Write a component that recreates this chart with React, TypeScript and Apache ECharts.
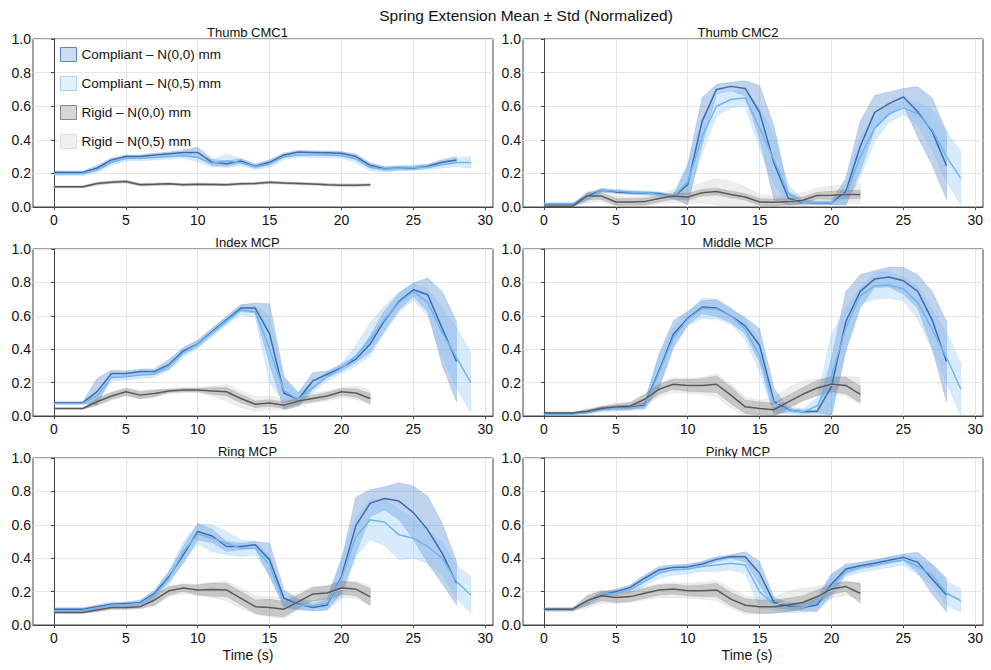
import React, { useEffect, useRef } from "react";
import * as echarts from "echarts";

// ---------- time axes (s) ----------
const timeC0 = [0, 1, 2, 3, 4, 5, 6, 7, 8, 9, 10, 11, 12, 13, 14, 15, 16, 17, 18, 19, 20, 21, 22, 23, 24, 25, 26, 27, 28];
const timeC5 = [0, 1, 2, 3, 4, 5, 6, 7, 8, 9, 10, 11, 12, 13, 14, 15, 16, 17, 18, 19, 20, 21, 22, 23, 24, 25, 26, 27, 28, 29];
const timeR = [0, 1, 2, 3, 4, 5, 6, 7, 8, 9, 10, 11, 12, 13, 14, 15, 16, 17, 18, 19, 20, 21, 22];

const xTicks = [0, 5, 10, 15, 20, 25, 30];

const panelTitles = ["Thumb CMC1", "Thumb CMC2", "Index MCP", "Middle MCP", "Ring MCP", "Pinky MCP"];
const legendNames = ["Compliant – N(0,0) mm", "Compliant – N(0,5) mm", "Rigid – N(0,0) mm", "Rigid – N(0,5) mm"];

// ---------- Thumb CMC1 ----------
const cmc1C0 = [.206, .206, .206, .232, .28, .30, .30, .31, .317, .325, .325, .266, .258, .274, .242, .266, .31, .327, .325, .323, .32, .30, .248, .228, .232, .232, .242, .266, .28];
const cmc1C0Sd = [.008, .008, .008, .015, .012, .01, .01, .01, .01, .015, .03, .02, .015, .015, .012, .015, .012, .01, .01, .01, .01, .015, .015, .012, .012, .012, .012, .015, .02];
const cmc1C5 = [.198, .198, .198, .22, .265, .288, .29, .295, .30, .305, .295, .26, .275, .265, .24, .255, .298, .31, .31, .31, .305, .285, .235, .225, .23, .235, .238, .252, .265, .265];
const cmc1C5Sd = [.012, .012, .012, .015, .015, .015, .015, .015, .015, .015, .025, .02, .04, .02, .015, .02, .015, .015, .015, .015, .015, .02, .02, .015, .015, .015, .015, .02, .025, .035];
const cmc1R0 = [.12, .12, .12, .14, .148, .152, .133, .135, .138, .132, .135, .134, .133, .138, .14, .147, .143, .14, .137, .132, .13, .13, .132];
const cmc1R0Sd = [.005, .005, .005, .007, .007, .007, .007, .007, .006, .006, .006, .006, .006, .006, .006, .006, .006, .006, .006, .006, .006, .006, .006];
const cmc1R5 = [.12, .12, .12, .138, .147, .15, .134, .135, .137, .133, .135, .134, .134, .137, .14, .146, .143, .14, .137, .133, .131, .131, .132];
const cmc1R5Sd = [.007, .007, .007, .009, .009, .009, .009, .009, .008, .008, .008, .008, .008, .008, .008, .008, .008, .008, .008, .008, .008, .008, .008];

// ---------- Thumb CMC2 ----------
const cmc2C0 = [.015, .015, .015, .063, .1, .09, .085, .083, .08, .06, .133, .51, .70, .718, .706, .563, .262, .052, .028, .024, .024, .093, .36, .563, .615, .655, .567, .45, .246];
const cmc2C0Sd = [.005, .005, .005, .02, .01, .01, .01, .01, .01, .01, .12, .14, .03, .025, .045, .16, .22, .04, .01, .01, .01, .08, .15, .1, .07, .05, .15, .2, .2];
const cmc2C5 = [.02, .02, .02, .05, .1, .095, .09, .085, .075, .06, .15, .42, .6, .64, .65, .47, .28, .08, .03, .025, .025, .07, .3, .47, .555, .59, .555, .46, .3, .17];
const cmc2C5Sd = [.008, .008, .008, .02, .01, .01, .01, .01, .01, .01, .1, .1, .06, .05, .05, .12, .15, .05, .015, .01, .01, .06, .12, .08, .05, .04, .07, .12, .15, .16];
const cmc2R0 = [.005, .005, .005, .065, .065, .03, .03, .032, .05, .065, .06, .085, .092, .075, .06, .03, .028, .032, .04, .068, .07, .074, .075];
const cmc2R0Sd = [.005, .005, .005, .02, .02, .02, .02, .02, .02, .02, .02, .02, .02, .02, .02, .02, .02, .02, .02, .02, .025, .025, .025];
const cmc2R5 = [.005, .005, .005, .06, .065, .032, .03, .035, .05, .065, .065, .085, .09, .078, .06, .035, .03, .035, .045, .07, .075, .078, .08];
const cmc2R5Sd = [.006, .006, .006, .035, .03, .03, .03, .03, .03, .04, .045, .06, .08, .075, .06, .04, .035, .035, .04, .045, .05, .055, .06];

// ---------- Index MCP ----------
const indexC0 = [.08, .08, .08, .146, .254, .255, .266, .267, .308, .39, .432, .506, .576, .646, .646, .492, .136, .10, .21, .25, .29, .34, .432, .572, .686, .756, .726, .526, .326];
const indexC0Sd = [.005, .005, .005, .08, .02, .015, .015, .015, .03, .02, .02, .02, .02, .02, .03, .18, .1, .04, .05, .02, .02, .02, .05, .06, .05, .04, .1, .22, .24];
const indexC5 = [.075, .075, .075, .12, .23, .235, .245, .25, .3, .38, .43, .5, .57, .635, .625, .4, .15, .1, .17, .235, .285, .36, .46, .58, .68, .745, .68, .5, .35, .2];
const indexC5Sd = [.008, .008, .008, .03, .02, .02, .02, .02, .025, .03, .025, .025, .025, .03, .035, .2, .06, .04, .03, .025, .03, .06, .1, .08, .06, .05, .08, .15, .18, .18];
const indexR0 = [.045, .045, .045, .085, .12, .145, .125, .135, .15, .155, .155, .15, .145, .105, .07, .078, .065, .09, .105, .12, .145, .138, .105];
const indexR0Sd = [.003, .003, .003, .02, .02, .02, .02, .02, .01, .01, .01, .02, .025, .025, .02, .02, .02, .02, .02, .02, .02, .025, .03];
const indexR5 = [.045, .045, .045, .085, .118, .143, .127, .135, .15, .155, .155, .148, .14, .1, .07, .08, .07, .09, .108, .12, .14, .14, .11];
const indexR5Sd = [.004, .004, .004, .025, .025, .025, .025, .02, .015, .015, .015, .03, .05, .05, .045, .04, .03, .03, .03, .03, .03, .04, .045];

// ---------- Middle MCP ----------
const middleC0 = [.018, .018, .018, .025, .045, .05, .052, .065, .27, .49, .586, .652, .646, .6, .54, .422, .086, .036, .026, .028, .176, .566, .746, .82, .832, .81, .746, .576, .326];
const middleC0Sd = [.005, .005, .005, .008, .01, .01, .01, .02, .1, .08, .04, .04, .05, .04, .05, .1, .08, .01, .01, .01, .17, .18, .1, .05, .06, .08, .1, .17, .24];
const middleC5 = [.01, .01, .01, .02, .04, .045, .048, .058, .26, .47, .58, .645, .64, .6, .52, .36, .07, .035, .025, .06, .24, .53, .72, .78, .785, .76, .68, .52, .35, .16];
const middleC5Sd = [.005, .005, .005, .01, .015, .015, .015, .02, .1, .06, .04, .06, .06, .05, .06, .1, .05, .02, .02, .05, .25, .12, .05, .08, .08, .07, .1, .12, .15, .16];
const middleR0 = [.018, .018, .018, .028, .045, .055, .06, .1, .16, .19, .183, .183, .19, .125, .055, .045, .038, .085, .13, .168, .19, .183, .13];
const middleR0Sd = [.004, .004, .004, .01, .01, .015, .02, .03, .03, .03, .035, .04, .05, .05, .04, .04, .04, .04, .04, .045, .045, .05, .05];
const middleR5 = [.018, .018, .018, .03, .045, .055, .06, .095, .155, .185, .18, .18, .185, .12, .055, .045, .06, .11, .15, .17, .185, .18, .15];
const middleR5Sd = [.005, .005, .005, .015, .015, .02, .025, .035, .04, .045, .045, .05, .07, .07, .06, .05, .05, .06, .06, .05, .05, .06, .08];

// ---------- Ring MCP ----------
const ringC0 = [.095, .095, .095, .11, .125, .128, .135, .19, .29, .42, .56, .533, .47, .47, .48, .39, .16, .125, .105, .12, .29, .595, .73, .758, .742, .673, .57, .43, .25];
const ringC0Sd = [.008, .008, .008, .01, .01, .01, .015, .02, .03, .05, .05, .04, .03, .02, .02, .1, .05, .03, .02, .03, .1, .17, .08, .07, .11, .16, .2, .18, .13];
const ringC5 = [.085, .085, .085, .1, .118, .12, .13, .18, .28, .44, .545, .52, .49, .46, .46, .36, .13, .12, .115, .13, .28, .53, .63, .615, .54, .52, .47, .4, .26, .18];
const ringC5Sd = [.008, .008, .008, .01, .01, .01, .015, .02, .04, .06, .06, .08, .07, .05, .04, .06, .03, .03, .03, .04, .12, .12, .12, .14, .15, .12, .1, .1, .1, .11];
const ringR0 = [.075, .075, .075, .09, .105, .105, .11, .15, .205, .222, .21, .212, .21, .16, .11, .105, .095, .14, .185, .192, .222, .215, .168];
const ringR0Sd = [.004, .004, .004, .01, .01, .01, .01, .03, .025, .02, .03, .04, .04, .04, .04, .05, .045, .04, .04, .04, .04, .04, .05];
const ringR5 = [.075, .075, .075, .09, .105, .105, .11, .145, .2, .218, .21, .21, .205, .16, .12, .11, .1, .14, .18, .19, .215, .21, .175];
const ringR5Sd = [.005, .005, .005, .01, .012, .012, .012, .035, .03, .03, .035, .045, .06, .06, .055, .06, .06, .05, .05, .05, .05, .05, .06];

// ---------- Pinky MCP ----------
const pinkyC0 = [.095, .095, .095, .14, .18, .2, .225, .28, .33, .345, .348, .365, .393, .41, .408, .31, .135, .112, .105, .12, .245, .335, .355, .37, .388, .405, .375, .275, .18];
const pinkyC0Sd = [.008, .008, .008, .01, .015, .015, .015, .02, .02, .015, .015, .015, .015, .01, .03, .07, .03, .02, .02, .04, .06, .03, .02, .02, .02, .02, .06, .09, .1];
const pinkyC5 = [.09, .09, .09, .13, .185, .19, .21, .26, .31, .33, .335, .35, .36, .37, .36, .2, .12, .105, .105, .135, .23, .32, .345, .36, .375, .39, .35, .3, .19, .145];
const pinkyC5Sd = [.01, .01, .01, .015, .015, .015, .02, .025, .03, .03, .03, .03, .04, .04, .05, .1, .03, .03, .03, .04, .07, .03, .03, .03, .03, .03, .05, .06, .07, .07];
const pinkyR0 = [.095, .095, .095, .145, .175, .165, .17, .19, .21, .215, .205, .205, .21, .155, .118, .11, .11, .12, .135, .17, .215, .23, .19];
const pinkyR0Sd = [.005, .005, .005, .03, .03, .03, .03, .03, .03, .03, .03, .035, .04, .04, .04, .04, .04, .04, .04, .04, .03, .03, .06];
const pinkyR5 = [.095, .095, .095, .14, .17, .17, .175, .19, .205, .21, .205, .205, .205, .16, .12, .115, .12, .14, .16, .18, .205, .22, .2];
const pinkyR5Sd = [.006, .006, .006, .04, .04, .04, .04, .04, .04, .045, .045, .05, .06, .06, .055, .05, .05, .06, .06, .05, .045, .04, .05];

const panels = [
  { c0: cmc1C0, c0s: cmc1C0Sd, c5: cmc1C5, c5s: cmc1C5Sd, r0: cmc1R0, r0s: cmc1R0Sd, r5: cmc1R5, r5s: cmc1R5Sd },
  { c0: cmc2C0, c0s: cmc2C0Sd, c5: cmc2C5, c5s: cmc2C5Sd, r0: cmc2R0, r0s: cmc2R0Sd, r5: cmc2R5, r5s: cmc2R5Sd },
  { c0: indexC0, c0s: indexC0Sd, c5: indexC5, c5s: indexC5Sd, r0: indexR0, r0s: indexR0Sd, r5: indexR5, r5s: indexR5Sd },
  { c0: middleC0, c0s: middleC0Sd, c5: middleC5, c5s: middleC5Sd, r0: middleR0, r0s: middleR0Sd, r5: middleR5, r5s: middleR5Sd },
  { c0: ringC0, c0s: ringC0Sd, c5: ringC5, c5s: ringC5Sd, r0: ringR0, r0s: ringR0Sd, r5: ringR5, r5s: ringR5Sd },
  { c0: pinkyC0, c0s: pinkyC0Sd, c5: pinkyC5, c5s: pinkyC5Sd, r0: pinkyR0, r0s: pinkyR0Sd, r5: pinkyR5, r5s: pinkyR5Sd },
];

const FONT = "'Liberation Sans', Arial, Helvetica, sans-serif";

const styleC0 = { line: "#3d6cb0", band: "rgba(60,120,200,0.33)", edge: "rgba(60,120,200,0.25)" };
const styleC5 = { line: "#72b5ee", band: "rgba(125,190,245,0.30)", edge: "rgba(125,190,245,0.25)" };
const styleR0 = { line: "#5a5a5a", band: "rgba(100,100,100,0.28)", edge: "rgba(100,100,100,0.2)" };
const styleR5 = { line: "#c6c6c6", band: "rgba(175,175,175,0.22)", edge: "rgba(175,175,175,0.18)" };

const gridLefts = [33, 523];
const gridTops = [39, 249, 458];
const gridW = 460;
const gridH = 168;

function bandSeries(name: string, idx: number, t: number[], m: number[], s: number[], st: any) {
  return {
    type: "custom",
    name,
    xAxisIndex: idx,
    yAxisIndex: idx,
    silent: true,
    clip: true,
    data: t.map((x, i) => [x, m[i] - s[i], m[i] + s[i]]),
    encode: { x: 0, y: [1, 2] },
    renderItem: (params: any, api: any) => {
      if (params.dataIndex !== 0) return null;
      const pts: number[][] = [];
      for (let i = 0; i < t.length; i++) pts.push(api.coord([t[i], m[i] + s[i]]));
      for (let i = t.length - 1; i >= 0; i--) pts.push(api.coord([t[i], m[i] - s[i]]));
      return {
        type: "polygon",
        shape: { points: pts },
        style: { fill: st.band, stroke: st.edge, lineWidth: 0.8 },
      };
    },
  };
}

function lineSeries(idx: number, t: number[], m: number[], st: any, w: number) {
  return {
    type: "line",
    xAxisIndex: idx,
    yAxisIndex: idx,
    silent: true,
    showSymbol: false,
    symbol: "none",
    data: t.map((x, i) => [x, m[i]]),
    lineStyle: { color: st.line, width: w },
    itemStyle: { color: st.line },
  };
}

export default function App() {
  const ref = useRef<HTMLDivElement>(null);
  useEffect(() => {
    document.body.style.margin = "0";
    if (!ref.current) return;
    const chart = echarts.init(ref.current, undefined, { renderer: "svg" });
    const grids: any[] = [];
    const xAxes: any[] = [];
    const yAxes: any[] = [];
    const series: any[] = [];
    const graphics: any[] = [];
    panels.forEach((p, i) => {
      const row = Math.floor(i / 2);
      const col = i % 2;
      grids.push({
        left: gridLefts[col],
        top: gridTops[row],
        width: gridW,
        height: gridH - (row > 0 ? 1 : 0),
        show: true,
        borderColor: "#454545",
        borderWidth: 1,
        backgroundColor: "transparent",
        containLabel: false,
      });
      xAxes.push({
        type: "value",
        gridIndex: i,
        min: -1.46,
        max: 30.54,
        axisLine: { show: true, onZero: false, lineStyle: { color: "#454545", width: 1 } },
        axisTick: { show: true, length: 3, lineStyle: { color: "#454545" }, customValues: xTicks },
        axisLabel: {
          show: true,
          fontSize: 14,
          color: "#111",
          fontFamily: FONT,
          margin: 6,
          customValues: xTicks,
        },
        splitLine: { show: true, lineStyle: { color: "#e6e6e6", width: 1 } },
      });
      yAxes.push({
        type: "value",
        gridIndex: i,
        min: 0,
        max: 1,
        interval: 0.2,
        axisLine: { show: true, lineStyle: { color: "#454545", width: 1 } },
        axisTick: { show: true, length: 3, lineStyle: { color: "#454545" } },
        axisLabel: {
          fontSize: 14,
          color: "#111",
          fontFamily: FONT,
          margin: 2,
          formatter: (v: number) => v.toFixed(1),
        },
        splitLine: { show: true, lineStyle: { color: "#e6e6e6", width: 1 } },
      });
      series.push(bandSeries(legendNames[0], i, timeC0, p.c0, p.c0s, styleC0));
      series.push(lineSeries(i, timeC0, p.c0, styleC0, 1.5));
      series.push(bandSeries(legendNames[1], i, timeC5, p.c5, p.c5s, styleC5));
      series.push(lineSeries(i, timeC5, p.c5, styleC5, 1.5));
      series.push(bandSeries(legendNames[3], i, timeR, p.r5, p.r5s, styleR5));
      series.push(lineSeries(i, timeR, p.r5, styleR5, 1.2));
      series.push(bandSeries(legendNames[2], i, timeR, p.r0, p.r0s, styleR0));
      series.push(lineSeries(i, timeR, p.r0, styleR0, 1.5));

      const titleX = col === 0 ? 247.5 : 738;
      graphics.push({
        type: "text",
        x: titleX,
        y: gridTops[row] - 7,
        style: {
          text: panelTitles[i],
          font: `13px ${FONT}`,
          fill: "#111",
          textAlign: "center",
          textVerticalAlign: "middle",
        },
      });
    });

    graphics.push({
      type: "text",
      x: 526,
      y: 15,
      style: {
        text: "Spring Extension Mean ± Std (Normalized)",
        font: `15.5px ${FONT}`,
        fill: "#111",
        textAlign: "center",
        textVerticalAlign: "middle",
      },
    });
    [248, 747].forEach((x) => {
      graphics.push({
        type: "text",
        x,
        y: 655,
        style: {
          text: "Time (s)",
          font: `14px ${FONT}`,
          fill: "#111",
          textAlign: "center",
          textVerticalAlign: "middle",
        },
      });
    });

    chart.setOption({
      animation: false,
      backgroundColor: "#ffffff",
      grid: grids,
      xAxis: xAxes,
      yAxis: yAxes,
      series,
      legend: {
        left: 60,
        top: 47,
        orient: "vertical",
        itemWidth: 16,
        itemHeight: 14,
        itemGap: 14,
        padding: 0,
        selectedMode: false,
        textStyle: { fontSize: 13.5, color: "#111", fontFamily: FONT },
        data: [
          { name: legendNames[0], icon: "rect", itemStyle: { color: "#cfdcee", borderColor: "#5b86c4", borderWidth: 1 } },
          { name: legendNames[1], icon: "rect", itemStyle: { color: "#e3f1fc", borderColor: "#a9d3f5", borderWidth: 1 } },
          { name: legendNames[2], icon: "rect", itemStyle: { color: "#d6d6d6", borderColor: "#8a8a8a", borderWidth: 1 } },
          { name: legendNames[3], icon: "rect", itemStyle: { color: "#f0f0f0", borderColor: "#dedede", borderWidth: 1 } },
        ],
      },
      graphic: graphics,
    });
    return () => chart.dispose();
  }, []);
  return <div ref={ref} style={{ position: "absolute", left: 0, top: 0, width: 991, height: 670 }} />;
}
